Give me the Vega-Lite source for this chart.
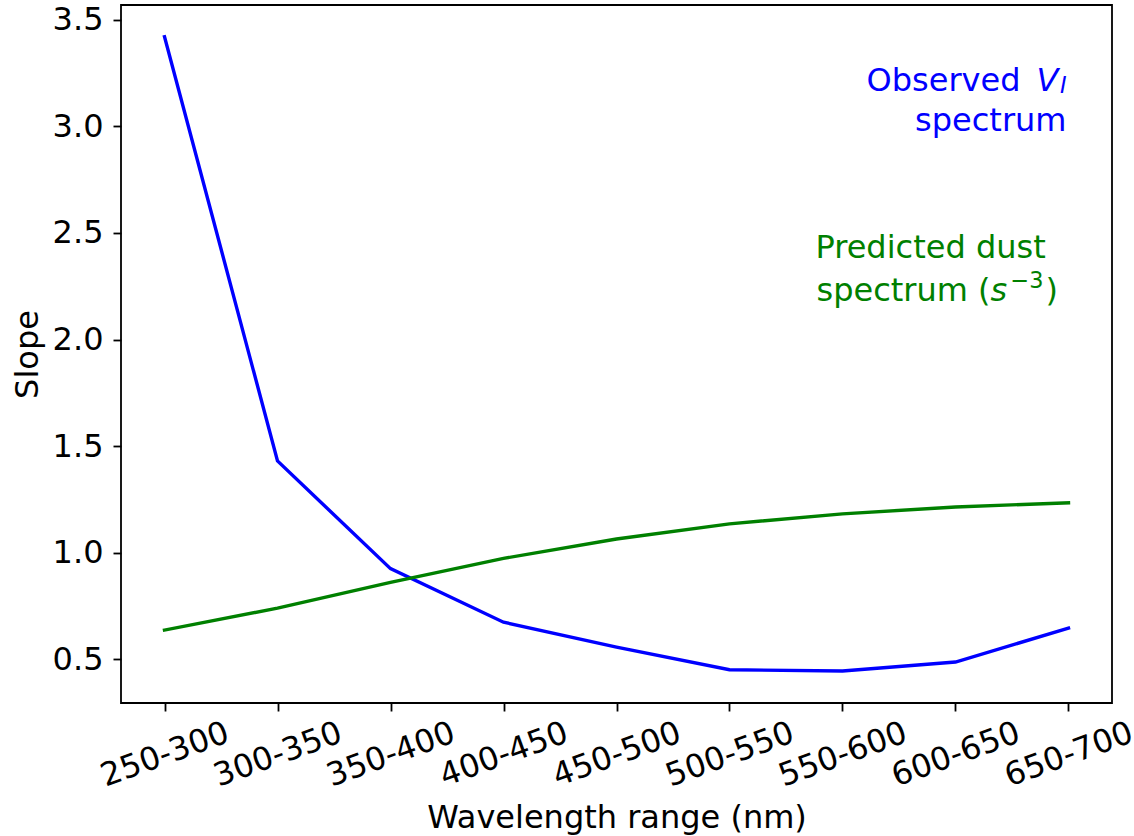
{
  "$schema": "https://vega.github.io/schema/vega-lite/v6.json",
  "width": 991,
  "height": 698,
  "autosize": {"type": "none"},
  "padding": {"left": 121, "top": 5, "right": 22, "bottom": 133},
  "background": "#ffffff",
  "config": {
    "font": "DejaVu Sans",
    "view": {"stroke": "#000000", "strokeWidth": 1.8},
    "axis": {
      "domain": false,
      "grid": false,
      "tickColor": "#000000",
      "tickWidth": 1.8,
      "tickSize": 8,
      "labelFont": "DejaVu Sans",
      "labelFontSize": 32,
      "labelColor": "#000000",
      "titleFont": "DejaVu Sans",
      "titleFontSize": 32,
      "titleFontWeight": "normal",
      "titleColor": "#000000",
      "labelOverlap": false,
      "labelBound": false
    }
  },
  "datasets": {
    "slopes": [
      {"range": "250-300", "series": "Observed", "slope": 3.42},
      {"range": "300-350", "series": "Observed", "slope": 1.431},
      {"range": "350-400", "series": "Observed", "slope": 0.926},
      {"range": "400-450", "series": "Observed", "slope": 0.675},
      {"range": "450-500", "series": "Observed", "slope": 0.558},
      {"range": "500-550", "series": "Observed", "slope": 0.452},
      {"range": "550-600", "series": "Observed", "slope": 0.446},
      {"range": "600-650", "series": "Observed", "slope": 0.488},
      {"range": "650-700", "series": "Observed", "slope": 0.647},
      {"range": "250-300", "series": "Predicted", "slope": 0.638},
      {"range": "300-350", "series": "Predicted", "slope": 0.741},
      {"range": "350-400", "series": "Predicted", "slope": 0.862},
      {"range": "400-450", "series": "Predicted", "slope": 0.974},
      {"range": "450-500", "series": "Predicted", "slope": 1.065},
      {"range": "500-550", "series": "Predicted", "slope": 1.136},
      {"range": "550-600", "series": "Predicted", "slope": 1.183},
      {"range": "600-650", "series": "Predicted", "slope": 1.215},
      {"range": "650-700", "series": "Predicted", "slope": 1.235}
    ]
  },
  "layer": [
    {
      "data": {"name": "slopes"},
      "mark": {"type": "line", "strokeWidth": 3.4, "strokeCap": "square"},
      "encoding": {
        "x": {
          "field": "range",
          "type": "ordinal",
          "sort": null,
          "scale": {"type": "point", "padding": 0.385},
          "title": "Wavelength range (nm)",
          "axis": {
            "labelAngle": -20,
            "labelAlign": "center",
            "labelBaseline": "middle",
            "labelPadding": 43,
            "titlePadding": 11
          }
        },
        "y": {
          "field": "slope",
          "type": "quantitative",
          "scale": {"domain": [0.296, 3.569], "nice": false, "zero": false},
          "title": "Slope",
          "axis": {
            "values": [0.5, 1.0, 1.5, 2.0, 2.5, 3.0, 3.5],
            "format": ".1f",
            "labelPadding": 10,
            "titlePadding": 8
          }
        },
        "color": {
          "field": "series",
          "type": "nominal",
          "scale": {"domain": ["Observed", "Predicted"], "range": ["#0000ff", "#008000"]},
          "legend": null
        }
      }
    },
    {
      "data": {"values": [{}]},
      "mark": {"type": "text", "text": "Observed", "align": "right", "baseline": "alphabetic", "fontSize": 32, "color": "#0000ff", "dx": -48},
      "encoding": {"x": {"datum": "650-700"}, "y": {"datum": 3.1673}}
    },
    {
      "data": {"values": [{}]},
      "mark": {"type": "text", "text": "V", "align": "right", "baseline": "alphabetic", "fontSize": 32, "fontStyle": "italic", "color": "#0000ff", "dx": -10},
      "encoding": {"x": {"datum": "650-700"}, "y": {"datum": 3.1673}}
    },
    {
      "data": {"values": [{}]},
      "mark": {"type": "text", "text": "I", "align": "right", "baseline": "alphabetic", "fontSize": 22.4, "fontStyle": "italic", "color": "#0000ff", "dx": -2},
      "encoding": {"x": {"datum": "650-700"}, "y": {"datum": 3.158}}
    },
    {
      "data": {"values": [{}]},
      "mark": {"type": "text", "text": "spectrum", "align": "right", "baseline": "alphabetic", "fontSize": 32, "color": "#0000ff", "dx": -2},
      "encoding": {"x": {"datum": "650-700"}, "y": {"datum": 2.9799}}
    },
    {
      "data": {"values": [{}]},
      "mark": {"type": "text", "text": "Predicted dust", "align": "left", "baseline": "alphabetic", "fontSize": 32, "color": "#008000", "dx": -27},
      "encoding": {"x": {"datum": "550-600"}, "y": {"datum": 2.3847}}
    },
    {
      "data": {"values": [{}]},
      "mark": {"type": "text", "text": "spectrum (", "align": "left", "baseline": "alphabetic", "fontSize": 32, "color": "#008000", "dx": -26},
      "encoding": {"x": {"datum": "550-600"}, "y": {"datum": 2.1832}}
    },
    {
      "data": {"values": [{}]},
      "mark": {"type": "text", "text": "s", "align": "left", "baseline": "alphabetic", "fontSize": 32, "fontStyle": "italic", "color": "#008000", "dx": 148},
      "encoding": {"x": {"datum": "550-600"}, "y": {"datum": 2.1832}}
    },
    {
      "data": {"values": [{}]},
      "mark": {"type": "text", "text": "−3", "align": "left", "baseline": "alphabetic", "fontSize": 22.4, "color": "#008000", "dx": 168},
      "encoding": {"x": {"datum": "550-600"}, "y": {"datum": 2.2441}}
    },
    {
      "data": {"values": [{}]},
      "mark": {"type": "text", "text": ")", "align": "left", "baseline": "alphabetic", "fontSize": 32, "color": "#008000", "dx": 203},
      "encoding": {"x": {"datum": "550-600"}, "y": {"datum": 2.1832}}
    }
  ]
}
